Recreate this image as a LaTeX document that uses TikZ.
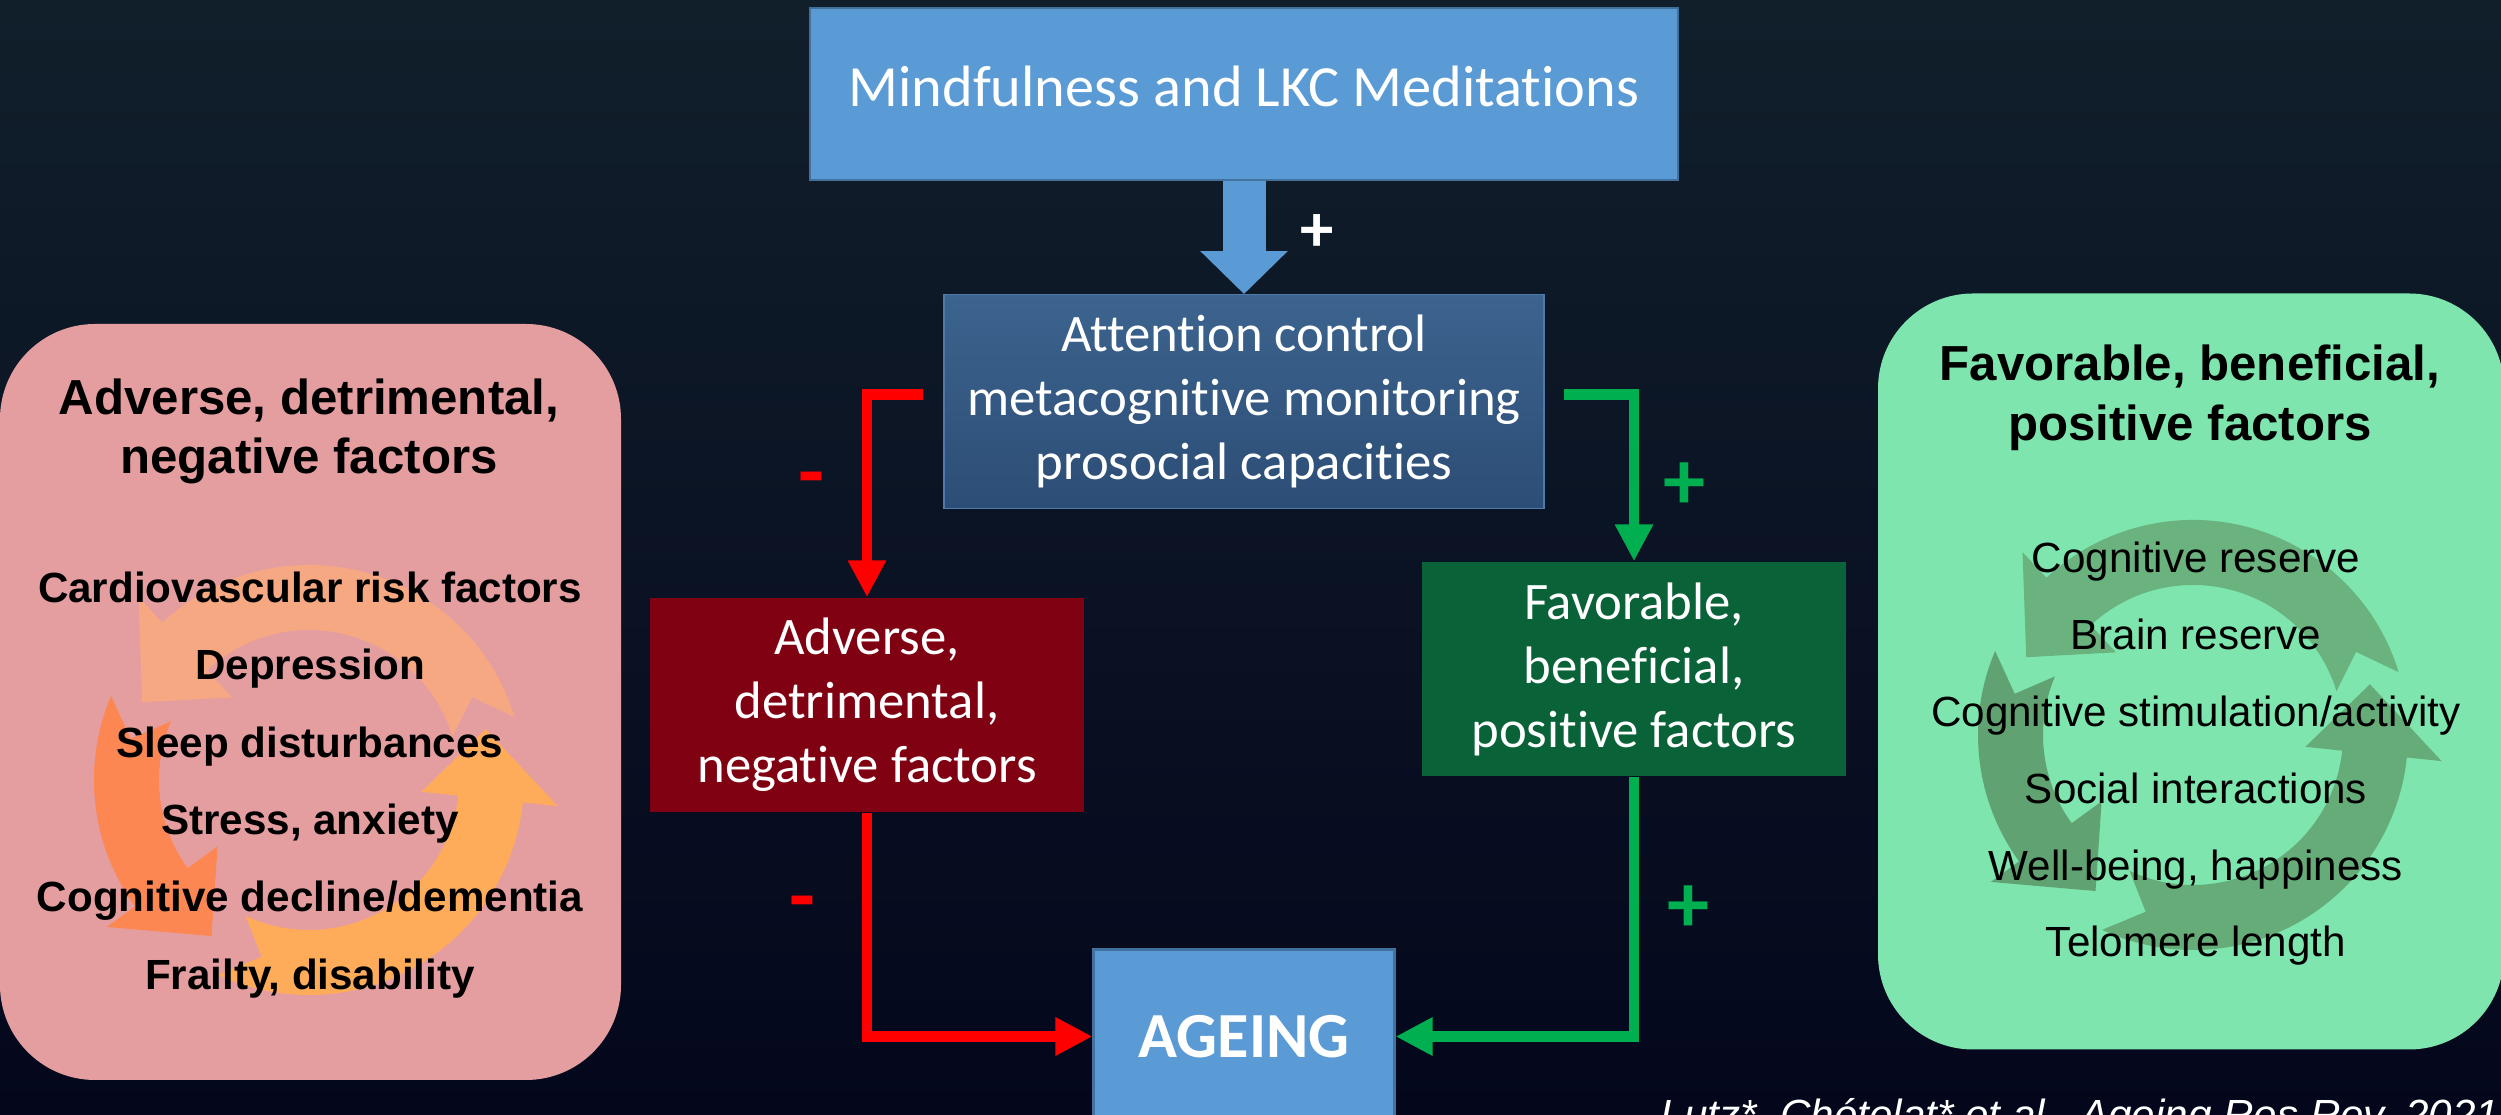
\documentclass[tikz,border=0pt]{standalone}
\usepackage{fontspec}
\setmainfont{Liberation Sans}
\newfontfamily\calibri[Ligatures=NoCommon]{Carlito}
\usetikzlibrary{arrows.meta, positioning, calc}

\definecolor{bgtop}{RGB}{17,31,43}
\definecolor{bgbot}{RGB}{4,7,28}
\definecolor{boxblue}{RGB}{91,155,213}
\definecolor{boxedge}{RGB}{65,113,156}
\definecolor{atttop}{RGB}{60,100,142}
\definecolor{attbot}{RGB}{44,77,118}
\definecolor{attedge}{RGB}{80,120,168}
\definecolor{advred}{RGB}{128,2,18}
\definecolor{favgreen}{RGB}{10,98,56}
\definecolor{negred}{RGB}{255,0,0}
\definecolor{posgreen}{RGB}{0,176,80}
\definecolor{negpink}{RGB}{228,158,160}
\definecolor{pospale}{RGB}{125,229,173}
\definecolor{cycA}{RGB}{246,168,130}
\definecolor{cycB}{RGB}{252,135,82}
\definecolor{cycC}{RGB}{254,172,90}
\definecolor{cycD}{RGB}{106,178,126}
\definecolor{cycE}{RGB}{96,162,113}
\definecolor{cycF}{RGB}{102,172,120}

\tikzstyle{bluebox}    = [rectangle, draw=boxedge, line width=0.6pt, fill=boxblue, text=white]
\tikzstyle{factor}     = [rectangle, align=center, text=white, minimum height=2.14cm,
                          font=\calibri\fontsize{15}{18.2}\selectfont]
\tikzstyle{sidebox}    = [rectangle, rounded corners=0.95cm, minimum height=7.56cm]
\tikzstyle{negline}    = [draw=negred, line width=3.1pt, -{Triangle[length=0.37cm, width=0.36cm]}]
\tikzstyle{posline}    = [draw=posgreen, line width=3.1pt, -{Triangle[length=0.37cm, width=0.36cm]}]
\tikzstyle{blockarrow} = [draw=boxblue, line width=0.43cm, -{Triangle[length=0.43cm, width=0.85cm]}]
\tikzstyle{signlbl}    = [font=\calibri\bfseries\fontsize{24}{24}\selectfont]

% one arrow of a cycle: centre, tail angle, head base angle, tip angle, colour
\newcommand{\cyclearc}[5]{%
  \fill[#5, shift={#1}] (#2:2.15) arc[start angle=#2, end angle=#3, radius=2.15]
    -- (#3:2.50) -- (#4:1.84) -- (#3:1.13) -- (#3:1.50)
    arc[start angle=#3, end angle=#2, radius=1.50] -- ({#2+10}:1.83) -- cycle;}

\begin{document}
\begin{tikzpicture}

  \useasboundingbox (0,0) rectangle (25.01,11.15);
  \clip (0,0) rectangle (25.01,11.15);
  \fill[top color=bgtop, bottom color=bgbot] (0,0) rectangle (25.01,11.15);

  % Side panels
  \node (negbox) [sidebox, fill=negpink, minimum width=6.21cm] at (3.105,4.13) {};
  \node (posbox) [sidebox, fill=pospale, minimum width=6.26cm] at (21.91,4.435) {};

  % Cycles behind the lists
  \cyclearc{(3.09,3.35)}{17}{133}{155}{cycA}
  \cyclearc{(3.09,3.35)}{157}{216}{238}{cycB}
  \cyclearc{(3.09,3.35)}{245}{354}{376}{cycC}
  \cyclearc{(21.93,3.80)}{17}{133}{155}{cycD}
  \cyclearc{(21.93,3.80)}{157}{216}{238}{cycE}
  \cyclearc{(21.93,3.80)}{245}{354}{376}{cycF}

  \node (negtitle) [font=\bfseries\fontsize{14}{17}\selectfont, align=center] at (3.09,6.835)
        {Adverse, detrimental,\\negative factors};
  \node (neglist) [font=\bfseries\fontsize{12}{22}\selectfont, align=center] at (3.10,3.30)
        {Cardiovascular risk factors\\Depression\\Sleep disturbances\\Stress, anxiety\\
         Cognitive decline/dementia\\Frailty, disability};
  \node (postitle) [font=\bfseries\fontsize{14}{17}\selectfont, align=center] at (21.90,7.175)
        {Favorable, beneficial,\\positive factors};
  \node (poslist) [font=\fontsize{12}{21.85}\selectfont, align=center] at (21.96,3.61)
        {Cognitive reserve\\Brain reserve\\Cognitive stimulation/activity\\Social interactions\\
         Well-being, happiness\\Telomere length};

  % Central chain
  \node (mind) [bluebox, minimum width=8.68cm, minimum height=1.72cm, text depth=0.15cm,
                font=\calibri\fontsize{16.6}{20}\selectfont] at (12.44,10.21)
                {Mindfulness and LKC Meditations};
  \node (att)  [factor, below=1.13cm of mind, minimum width=6.00cm, draw=attedge,
                top color=atttop, bottom color=attbot]
                {Attention control\\metacognitive monitoring\\prosocial capacities};
  \node (adv)  [factor, fill=advred, minimum width=4.34cm] at (8.67,4.10)
                {Adverse,\\detrimental,\\negative factors};
  \node (fav)  [factor, fill=favgreen, minimum width=4.24cm] at (16.34,4.46)
                {Favorable,\\beneficial,\\positive factors};
  \node (age)  [bluebox, below=4.39cm of att, minimum width=3.01cm, minimum height=1.74cm,
                font=\calibri\bfseries\fontsize{18.3}{22}\selectfont] {AGEING};

  % Arrows
  \draw[blockarrow] (mind) -- (att);
  \draw[negline, shorten <=0.2cm] ([yshift=0.07cm]att.west) -| (adv.north);
  \draw[posline, shorten <=0.19cm] ([yshift=0.07cm]att.east) -| (fav.north);
  \draw[negline] (adv.south) |- (age.west);
  \draw[posline] (fav.south) |- (age.east);

  % Signs
  \node (plusA)  [signlbl, text=white, font=\calibri\bfseries\fontsize{19}{19}\selectfont] at (13.17,8.82) {+};
  \node (minusA) [signlbl, text=negred] at (8.11,6.29) {-};
  \node (minusB) [signlbl, text=negred] at (8.02,2.05) {-};
  \node (plusB)  [signlbl, text=posgreen] at (16.84,6.29) {+};
  \node (plusC)  [signlbl, text=posgreen] at (16.88,2.06) {+};

  % Reference
  \node (cite) [anchor=base west, inner sep=0pt, text=white, font=\itshape\fontsize{12}{14}\selectfont]
        at (16.60,-0.15) {Lutz*, Chételat* et al., Ageing Res Rev, 2021};

\end{tikzpicture}
\end{document}
